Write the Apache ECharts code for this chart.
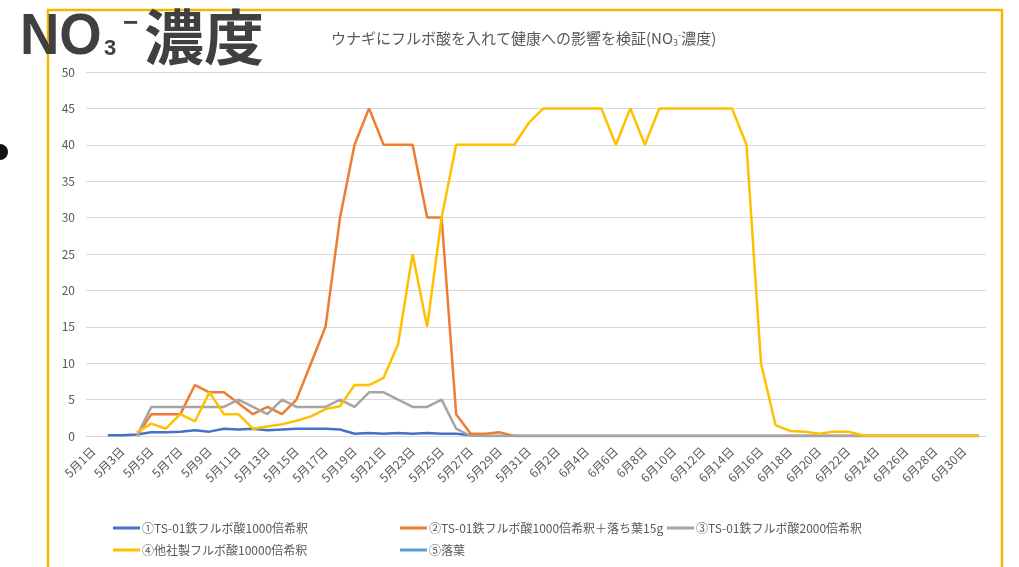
<!DOCTYPE html>
<html>
<head>
<meta charset="utf-8">
<script src="https://cdn.jsdelivr.net/npm/echarts@6/dist/echarts.min.js"></script>
<style>
html,body{margin:0;padding:0;background:#fff;}
#c{width:1019px;height:567px;}
</style>
</head>
<body>
<div id="c"></div>
<script>
var categories = [
 '5月1日','5月2日','5月3日','5月4日','5月5日','5月6日','5月7日','5月8日','5月9日','5月10日',
 '5月11日','5月12日','5月13日','5月14日','5月15日','5月16日','5月17日','5月18日','5月19日','5月20日',
 '5月21日','5月22日','5月23日','5月24日','5月25日','5月26日','5月27日','5月28日','5月29日','5月30日','5月31日',
 '6月1日','6月2日','6月3日','6月4日','6月5日','6月6日','6月7日','6月8日','6月9日','6月10日',
 '6月11日','6月12日','6月13日','6月14日','6月15日','6月16日','6月17日','6月18日','6月19日','6月20日',
 '6月21日','6月22日','6月23日','6月24日','6月25日','6月26日','6月27日','6月28日','6月29日','6月30日','7月1日'
];
var seriesNames = [
 '①TS-01鉄フルボ酸1000倍希釈',
 '②TS-01鉄フルボ酸1000倍希釈＋落ち葉15g',
 '③TS-01鉄フルボ酸2000倍希釈',
 '④他社製フルボ酸10000倍希釈',
 '⑤落葉'
];
var s1 = [null,
 0.1,0.1,0.2,0.5,0.5,0.6,0.8,0.6,1.0,0.9,1.0,0.8,0.9,1.0,1.0,1.0,0.9,0.3,0.4,0.3,0.4,0.3,0.4,0.3,0.3,0.1,
 0,0,0,0,0,0,0,0,0,0,0,0,0,0,0,0,0,0,0,0,0,0,0,0,0,0,0,0,0,0,0,0,0,0,0];
var s2 = [null,null,null,
 0,3,3,3,7,6,6,4.5,3,4,3,5,10,15,30,40,45,40,40,40,30,30,3,0.3,0.3,0.5,
 0,0,0,0,0,0,0,0,0,0,0,0,0,0,0,0,0,0,0,0,0,0,0,0,0,0,0,0,0,0,0,0,0];
var s3 = [null,null,null,
 0,4,4,4,4,4,4,5,4,3,5,4,4,4,5,4,6,6,5,4,4,5,1,
 0,0,0,0,0,0,0,0,0,0,0,0,0,0,0,0,0,0,0,0,0,0,0,0,0,0,0,0,0,0,0,0,0,0,0,0];
var s4 = [null,null,null,
 0.5,1.7,1,3,2,6,3,3,1,1.3,1.6,2.1,2.7,3.7,4.1,7,7,8,12.6,25,15,30,
 40,40,40,40,40,43,45,45,45,45,45,40,45,40,45,45,45,45,45,45,40,10,
 1.5,0.7,0.6,0.3,0.6,0.6,0.1,
 0,0,0,0,0,0,0,0];
var s5 = [];
var yTicks = {min:0, max:50, interval:5};

var colors = ['#4472C4','#ED7D31','#A5A5A5','#FFC000','#5B9BD5'];
var seriesData = [s1,s2,s3,s4,s5];
var FONT = '"Liberation Sans Narrow","Noto Sans CJK JP",sans-serif';
var CJK = '"Noto Sans CJK JP",sans-serif';
var TXT = '#595959';

var chart = echarts.init(document.getElementById('c'), null, {renderer:'canvas'});

var legendPos = [[108,517],[395,517],[662,517],[108,539],[395,539]];
var legends = seriesNames.map(function(n,i){
  return {
    data:[n], left:legendPos[i][0], top:legendPos[i][1],
    icon:'rect', itemWidth:27, itemHeight:3, itemGap:0,
    textStyle:{color:TXT, fontSize:12, fontFamily:CJK, padding:[0,0,0,-3]}
  };
});

var option = {
  backgroundColor:'#fff',
  animation:false,
  color:colors,
  title:{
    text:'ウナギにフルボ酸を入れて健康への影響を検証(NO{sub|3}{sup|-}濃度)',
    left:326, top:25,
    textStyle:{
      color:TXT, fontSize:15, fontWeight:'normal', fontFamily:CJK,
      rich:{
        sub:{fontSize:9, color:TXT, verticalAlign:'bottom', padding:[8,0,0,0], fontFamily:CJK},
        sup:{fontSize:9, color:TXT, verticalAlign:'top', padding:[0,0,6,0], fontFamily:CJK}
      }
    }
  },
  legend:legends,
  grid:{left:86, right:33, top:72, bottom:131, containLabel:false},
  xAxis:{
    type:'category', data:categories, boundaryGap:true,
    axisLine:{show:true, lineStyle:{color:'#D9D9D9'}},
    axisTick:{show:false},
    axisLabel:{interval:1, rotate:45, margin:13, color:TXT, fontSize:12, fontFamily:CJK}
  },
  yAxis:{
    type:'value', min:yTicks.min, max:yTicks.max, interval:yTicks.interval,
    axisLine:{show:false}, axisTick:{show:false},
    axisLabel:{color:TXT, fontSize:12, margin:11, fontFamily:FONT},
    splitLine:{lineStyle:{color:'#D9D9D9', width:1}}
  },
  series:seriesNames.map(function(n,i){
    return {
      name:n, type:'line', data:seriesData[i], showSymbol:false, symbol:'none',
      lineStyle:{width:2.5, color:colors[i]}, itemStyle:{color:colors[i]},
      connectNulls:false, z:2+i
    };
  }),
  graphic:[
    {type:'rect', z:-1, silent:true, shape:{x:48, y:10, width:954, height:620},
     style:{fill:'#fff', stroke:'#F2B800', lineWidth:2.5}},
    {type:'circle', silent:true, shape:{cx:0, cy:152, r:8}, style:{fill:'#111'}},
    {type:'text', silent:true, z:100, x:20, y:38, scaleX:0.94, scaleY:1.0,
     style:{text:'NO', fill:'#404040', font:'bold 58px "Liberation Sans",sans-serif', verticalAlign:'middle'}},
    {type:'text', silent:true, z:100, x:104, y:49,
     style:{text:'3', fill:'#404040', font:'bold 22px "Liberation Sans",sans-serif', verticalAlign:'middle'}},
    {type:'text', silent:true, z:100, x:123, y:24,
     style:{text:'−', fill:'#404040', font:'bold 26px "Liberation Sans",sans-serif', verticalAlign:'middle'}},
    {type:'text', silent:true, z:100, x:144, y:37,
     style:{text:'濃度', fill:'#404040', font:'bold 60px "Noto Sans CJK JP",sans-serif', verticalAlign:'middle'}}
  ]
};
chart.setOption(option);
</script>
</body>
</html>
